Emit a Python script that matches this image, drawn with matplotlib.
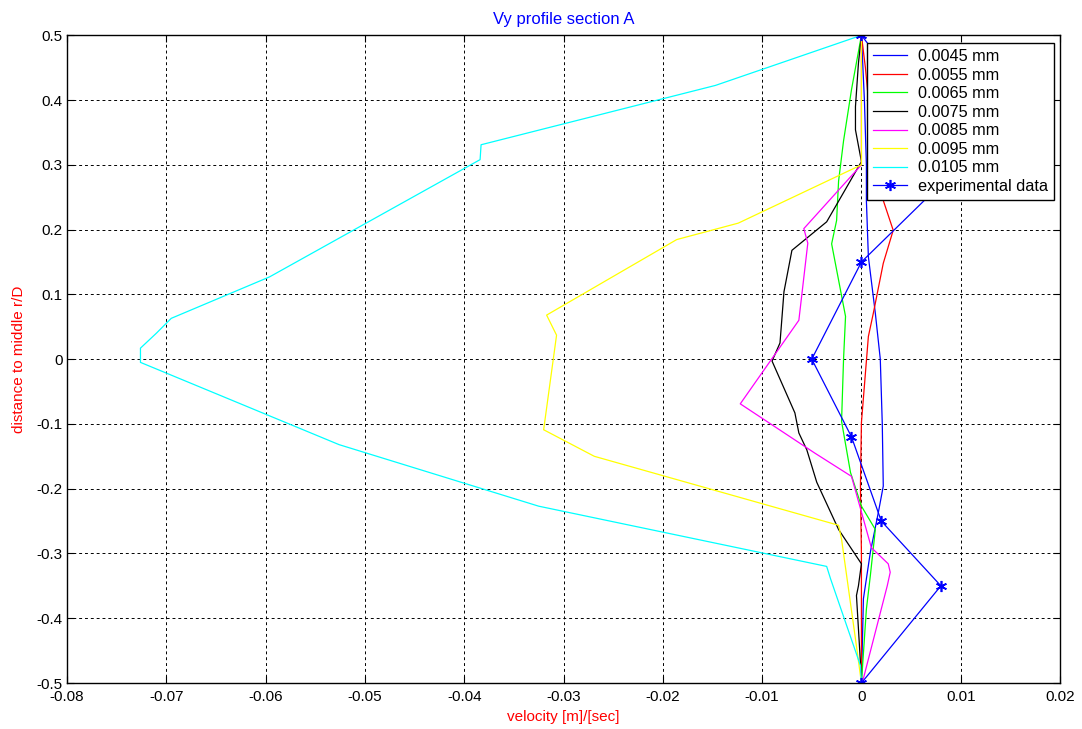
import numpy as np
import matplotlib
matplotlib.use("Agg")
import matplotlib.pyplot as plt
from matplotlib.ticker import FuncFormatter

plt.rcParams['font.family'] = ['Liberation Sans', 'DejaVu Sans']

# profiles: velocity [m/s] vs r/D
labels = ['0.0045 mm', '0.0055 mm', '0.0065 mm', '0.0075 mm',
          '0.0085 mm', '0.0095 mm', '0.0105 mm']
# matlab style pure colours b r g k m y c
colors = ['#0000ff', '#ff0000', '#00ff00', '#000000', '#ff00ff', '#ffff00', '#00ffff']

v_0045 = [0, 0.0003, 0.0005, 0.0005, 0.0007, 0.0014, 0.0019, 0.0021, 0.0022, 0.0017, 0.0009, 0.0002, 0]
r_0045 = [0.5, 0.4, 0.3, 0.245, 0.158, 0.071, 0.0, -0.1, -0.196, -0.237, -0.298, -0.37, -0.5]

v_0055 = [0, 0.0004, 0.0012, 0.0022, 0.0032, 0.0022, 0.0012, 0.0007, 0.0, -0.0001, 0.0, 0]
r_0055 = [0.5, 0.45, 0.32, 0.245, 0.199, 0.148, 0.071, 0.035, -0.098, -0.196, -0.3, -0.5]

v_0065 = [0, -0.001, -0.0018, -0.0023, -0.0025, -0.003, -0.0016, -0.0018, -0.002, -0.0011, 0.0, 0.0014, 0.0009, 0.0005, 0]
r_0065 = [0.5, 0.416, 0.337, 0.275, 0.214, 0.178, 0.066, 0.0, -0.096, -0.175, -0.227, -0.263, -0.334, -0.386, -0.5]

v_0075 = [0, -0.0003, -0.0006, -0.0006, 0.0, -0.0035, -0.007, -0.0078, -0.0082, -0.009, -0.0067,
          -0.0063, -0.0055, -0.0045, -0.0023, 0.0, -0.0003, -0.0005, -0.0001, 0]
r_0075 = [0.5, 0.457, 0.39, 0.354, 0.305, 0.212, 0.168, 0.104, 0.025, -0.003, -0.083,
          -0.114, -0.14, -0.19, -0.263, -0.316, -0.35, -0.365, -0.468, -0.5]

v_0085 = [0, 0.0, -0.0058, -0.0054, -0.0063, -0.0122, -0.0047, -0.001, 0.001, 0.0027, 0.0029, 0.0026, 0.0002, 0]
r_0085 = [0.5, 0.3, 0.2015, 0.179, 0.06, -0.069, -0.145, -0.181, -0.291, -0.316, -0.329, -0.35, -0.493, -0.5]

v_0095 = [0, 0.0, -0.0124, -0.0186, -0.0317, -0.0307, -0.032, -0.0269, -0.0023, -0.002, -0.0006, 0]
r_0095 = [0.5, 0.3, 0.21, 0.1846, 0.068, 0.037, -0.109, -0.15, -0.2565, -0.278, -0.432, -0.5]

v_0105 = [0, -0.0147, -0.0383, -0.0384, -0.0596, -0.0695, -0.071, -0.0726, -0.0726, -0.070,
          -0.0526, -0.0325, -0.0035, -0.0031, -0.0001, 0]
r_0105 = [0.5, 0.4226, 0.331, 0.308, 0.127, 0.063, 0.04, 0.017, -0.005, -0.0215,
          -0.132, -0.227, -0.32, -0.3395, -0.473, -0.5]

v_exp = [0, 0.01, 0, -0.005, -0.001, 0.002, 0.008, 0]
r_exp = [0.5, 0.3, 0.15, 0, -0.12, -0.25, -0.35, -0.5]

series = [(v_0045, r_0045), (v_0055, r_0055), (v_0065, r_0065), (v_0075, r_0075),
          (v_0085, r_0085), (v_0095, r_0095), (v_0105, r_0105)]

fig = plt.figure(figsize=(10.82, 7.29), dpi=100)
ax = fig.add_axes([0.0619, 0.0631, 0.9178, 0.8885])

for (v, r), c, lab in zip(series, colors, labels):
    ax.plot(v, r, color=c, lw=0.9, label=lab)
ax.plot(v_exp, r_exp, color='#0000ff', lw=0.9, marker=(6, 2, 0), ms=8, mew=1.2,
        label='experimental data')

ax.set_xlim(-0.08, 0.02)
ax.set_ylim(-0.5, 0.5)
ax.set_xticks(np.arange(-0.08, 0.021, 0.01))
ax.set_yticks(np.arange(-0.5, 0.51, 0.1))
fmt = FuncFormatter(lambda val, pos: '%g' % round(val, 4) if abs(val) > 1e-9 else '0')
ax.xaxis.set_major_formatter(fmt)
ax.yaxis.set_major_formatter(fmt)
ax.tick_params(direction='in', length=5, width=0.8, labelsize=11, colors='black',
               top=True, right=True)
ax.tick_params(axis='x', pad=5)
ax.tick_params(axis='y', pad=3)
ax.grid(True, color='black', linestyle=(0, (3, 3)), lw=0.7)
for s in ax.spines.values():
    s.set_linewidth(1.0)

ax.set_title('Vy profile section A', color='blue', fontsize=12, pad=8)
ax.set_xlabel('velocity [m]/[sec]', color='red', fontsize=11, labelpad=4)
ax.set_ylabel('distance to middle r/D', color='red', fontsize=11, labelpad=8)

leg = ax.legend(loc='upper right', bbox_to_anchor=(0.994, 0.9877), borderaxespad=0,
                fontsize=11.7, fancybox=False, framealpha=1, edgecolor='black',
                handlelength=2.1, labelspacing=0.22, borderpad=0.35, handletextpad=0.7)
leg.get_frame().set_linewidth(1.0)

fig.savefig('out.png', dpi=100)
